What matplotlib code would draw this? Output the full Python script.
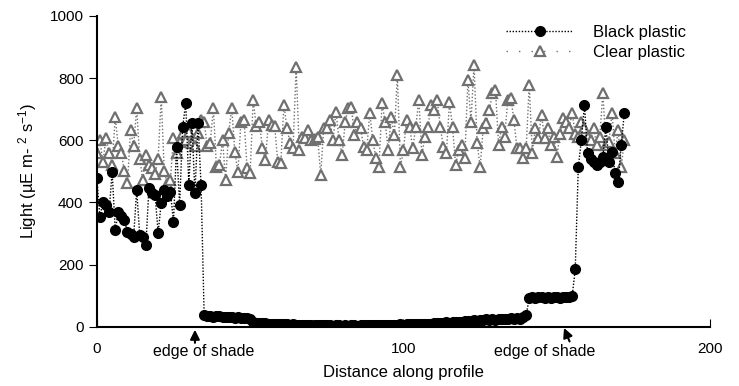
import numpy as np
import matplotlib
matplotlib.use("Agg")
import matplotlib.pyplot as plt
from matplotlib.lines import Line2D

plt.rcParams['font.family'] = ['Liberation Sans', 'DejaVu Sans']
plt.rcParams['mathtext.fontset'] = 'custom'
plt.rcParams['mathtext.rm'] = 'Liberation Sans'
plt.rcParams['mathtext.it'] = 'Liberation Sans'

# distance along profile, one reading per unit
distance = np.arange(0, 173)

black_plastic = [
    480, 354, 402, 392, 370, 498, 312, 370, 355, 344,
    305, 300, 290, 440, 295, 290, 264, 447, 430, 424,
    302, 399, 440, 420, 434, 338, 579, 392, 643, 720,
    456, 656, 430, 656, 456, 38, 35, 36, 33, 35,
    34, 32, 33, 31, 32, 30, 31, 29, 30, 28,
    27, 15, 14, 13, 12, 12, 11, 10, 10, 9,
    9, 8, 8, 7, 8, 7, 6, 7, 6, 6,
    5, 6, 5, 5, 6, 5, 5, 4, 5, 5,
    4, 5, 4, 5, 5, 4, 5, 5, 6, 5,
    5, 6, 5, 6, 6, 7, 6, 7, 7, 8,
    7, 8, 8, 9, 8, 10, 9, 10, 11, 10,
    12, 12, 14, 13, 15, 14, 16, 15, 17, 16,
    18, 20, 18, 22, 19, 23, 21, 24, 22, 25,
    23, 26, 24, 27, 25, 28, 26, 30, 27, 32,
    38, 92, 96, 94, 95, 97, 93, 96, 94, 95,
    96, 94, 97, 95, 96, 98, 186, 514, 601, 714,
    560, 540, 530, 520, 530, 545, 643, 530, 563, 495,
    466, 585, 688,
]

clear_plastic = [
    560, 600, 530, 608, 560, 520, 675, 580, 560, 500,
    463, 633, 580, 705, 540, 473, 553, 520, 510, 490,
    540, 740, 500, 460, 473, 608, 560, 595, 624, 600,
    627, 590, 580, 624, 666, 659, 582, 592, 704, 514,
    521, 601, 473, 624, 704, 563, 498, 659, 666, 511,
    495, 730, 645, 660, 575, 537, 666, 650, 645, 530,
    527, 714, 640, 592, 575, 836, 569, 611, 608, 633,
    600, 605, 611, 489, 640, 640, 666, 601, 691, 601,
    553, 659, 704, 707, 617, 659, 640, 578, 569, 688,
    600, 543, 514, 720, 659, 569, 675, 617, 810, 514,
    569, 666, 643, 575, 643, 730, 553, 611, 643, 714,
    698, 730, 643, 578, 560, 723, 643, 520, 569, 585,
    543, 794, 659, 842, 592, 514, 640, 656, 698, 752,
    762, 585, 643, 611, 730, 736, 666, 575, 575, 543,
    575, 778, 560, 640, 608, 682, 608, 640, 585, 611,
    547, 620, 672, 659, 640, 688, 620, 611, 659, 640,
    611, 600, 640, 585, 611, 752, 585, 595, 688, 560,
    633, 514, 600,
]

shade_edges = [32, 152]
xticks = [0, 100, 200]
yticks = [0, 200, 400, 600, 800, 1000]

grey = '#707070'

fig = plt.figure(figsize=(7.39, 3.86), dpi=100)
ax = fig.add_axes([0.131, 0.153, 0.830, 0.806])

ax.plot(distance, clear_plastic, linestyle=(0, (1, 1.5)), color=grey, lw=1.0,
        marker='^', markersize=6.5, markerfacecolor='white',
        markeredgecolor=grey, markeredgewidth=1.6, zorder=2)
ax.plot(distance, black_plastic, linestyle=(0, (1, 1.2)), color='black', lw=1.0,
        marker='o', markersize=7, markerfacecolor='black',
        markeredgecolor='black', zorder=3)

ax.set_xlim(0, 200)
ax.set_ylim(0, 1000)
ax.set_xticks(xticks)
ax.set_yticks(yticks)
ax.tick_params(axis='x', direction='in', length=6, labelsize=11, pad=11)
ax.tick_params(axis='y', direction='out', length=6, labelsize=11)
ax.spines['top'].set_visible(False)
ax.spines['right'].set_visible(False)
ax.spines['left'].set_linewidth(1.5)
ax.spines['bottom'].set_linewidth(1.5)
ax.spines['bottom'].set_zorder(1)

ax.set_xlabel('Distance along profile', fontsize=12, labelpad=6)
ax.set_ylabel('Light (µE m- $^{2}$ s$^{-1}$)', fontsize=12, labelpad=8)

# shade edge arrows and labels
ax.annotate('', xy=(shade_edges[0], 0), xytext=(shade_edges[0], -60),
            arrowprops=dict(arrowstyle='-|>', color='black', lw=1.5,
                            mutation_scale=14), annotation_clip=False)
ax.annotate('', xy=(shade_edges[1], 5), xytext=(shade_edges[1] + 2.5, -55),
            arrowprops=dict(arrowstyle='-|>', color='black', lw=1.5,
                            mutation_scale=14), annotation_clip=False)
ax.text(35, -80, 'edge of shade', ha='center', va='center', fontsize=11.5)
ax.text(146, -80, 'edge of shade', ha='center', va='center', fontsize=11.5)

handles = [
    Line2D([], [], linestyle=(0, (1, 1.2)), color='black', lw=1.0,
           marker='o', markersize=7, markerfacecolor='black'),
    Line2D([], [], linestyle=(0, (1, 8)), color=grey, lw=1.0,
           marker='^', markersize=6.5, markerfacecolor='white',
           markeredgecolor=grey, markeredgewidth=1.6),
]
ax.legend(handles, ['Black plastic', 'Clear plastic'], loc='upper right',
          bbox_to_anchor=(0.985, 1.02), frameon=False, fontsize=12,
          handlelength=4, labelspacing=0.3, handletextpad=1.2)

fig.savefig('out.png', dpi=100)
